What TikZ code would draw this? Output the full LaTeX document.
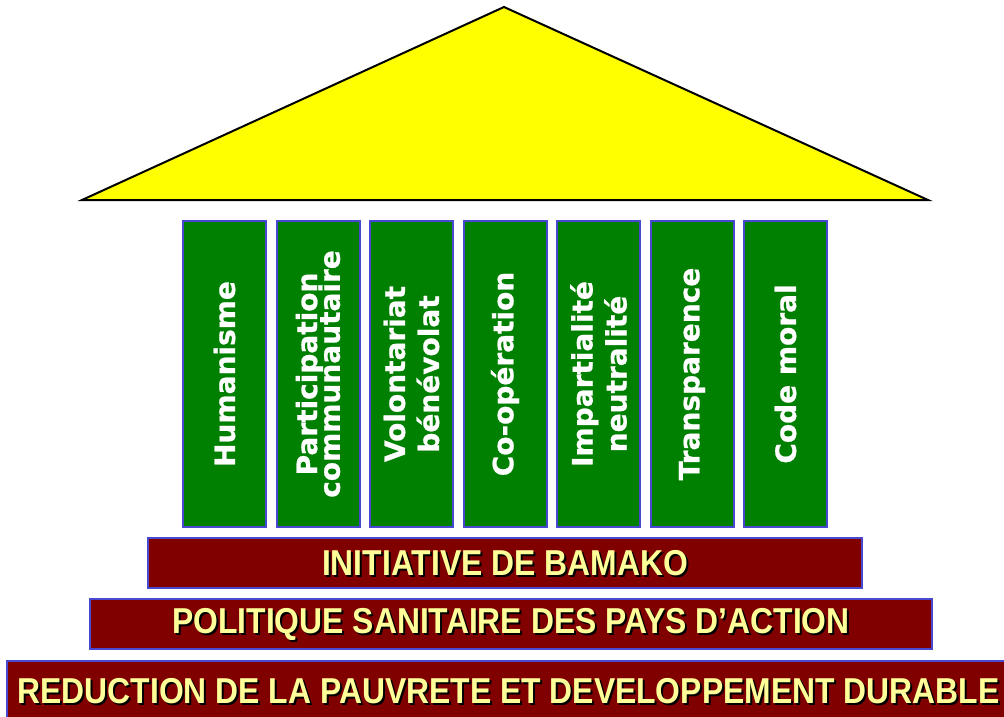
\documentclass[tikz,border=0pt]{standalone}
\usepackage{fontspec}
\setmainfont{DejaVu Sans}
\newfontfamily\pillarfont[FakeBold=0.8]{DejaVu Sans Bold}
\newfontfamily\barfont[FakeStretch=0.885]{Liberation Sans}
\definecolor{pillargreen}{HTML}{008000}
\definecolor{edgeblue}{HTML}{4848D0}
\definecolor{barred}{HTML}{800000}
\definecolor{barink}{HTML}{FFFF99}
\definecolor{roofyellow}{HTML}{FFFF00}
\tikzset{
  roof/.style={draw=black, line width=1.5pt, line join=miter, fill=roofyellow},
  pillar/.style={draw=edgeblue, line width=1.5pt, fill=pillargreen, rotate=90,
    minimum width=229.5pt, minimum height=62.25pt, inner sep=0pt, text=white,
    align=center, font=\pillarfont\fontsize{21}{25.5}\selectfont},
  bar/.style={draw=edgeblue, line width=1.5pt, fill=barred, inner sep=0pt},
  bartext/.style={text=barink, inner sep=0pt, font=\barfont\fontsize{27}{30}\selectfont\bfseries},
  barshadow/.style={bartext, text=black}
}
\begin{document}
\begin{tikzpicture}[x=0.75pt,y=-0.75pt]
  \clip (0,0) rectangle (1004,717);
  % roof
  \draw[roof] (82,200) -- (504,7) -- (928,200) -- cycle;
  % pillars
  \foreach \i/\txt in {1/Humanisme,
      2/{Participation\\[-8.5pt]communautaire},
      3/{Volontariat\\bénévolat},
      4/Co-opération,
      5/{Impartialité\\neutralité},
      6/Transparence,
      7/Code moral}
    \node[pillar] (p\i) at ({224.5+(\i-1)*93.5},374) {\txt};
  % steps
  \node[bar, minimum width=535.5pt, minimum height=37.5pt] (b1) at (505,563) {};
  \node[barshadow] at ([shift={(2,2)}]b1.center) {INITIATIVE DE BAMAKO};
  \node[bartext] at (b1.center) {INITIATIVE DE BAMAKO};
  \node[bar, minimum width=631.5pt, minimum height=37.5pt] (b2) at (511,624) {};
  \node[barshadow] at ([shift={(2,2)}]b2.center) {POLITIQUE SANITAIRE DES PAYS D’ACTION};
  \node[bartext] at (b2.center) {POLITIQUE SANITAIRE DES PAYS D’ACTION};
  \node[bar, minimum width=752.25pt, minimum height=45pt] (b3) at (508.5,691) {};
  \node[barshadow] at ([shift={(2,2)}]b3.center) {REDUCTION DE LA PAUVRETE ET DEVELOPPEMENT DURABLE};
  \node[bartext] at (b3.center) {REDUCTION DE LA PAUVRETE ET DEVELOPPEMENT DURABLE};
\end{tikzpicture}
\end{document}
